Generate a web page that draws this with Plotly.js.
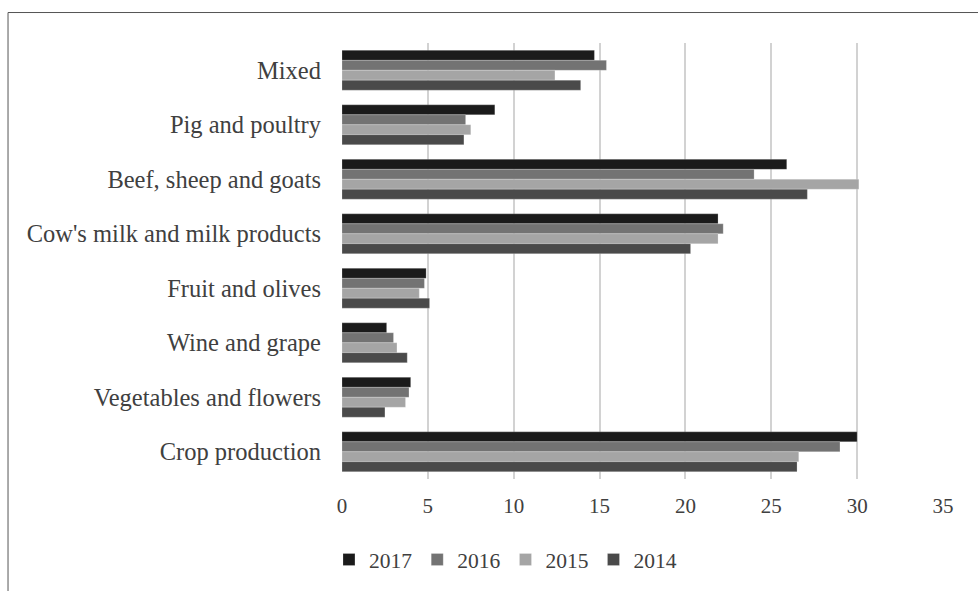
<!DOCTYPE html>
<html>
<head>
<meta charset="utf-8">
<script src="https://cdn.plot.ly/plotly-3.0.1.min.js"></script>
<style>html,body{margin:0;padding:0;background:#fff;}#chart{width:978px;height:591px;}</style>
</head>
<body>
<div id="chart"></div>
<script>
const categories = ["Mixed", "Pig and poultry", "Beef, sheep and goats", "Cow's milk and milk products", "Fruit and olives", "Wine and grape", "Vegetables and flowers", "Crop production"];
const years = ["2017", "2016", "2015", "2014"];
const values2017 = [14.7, 8.9, 25.9, 21.9, 4.9, 2.6, 4.0, 30.0];
const values2016 = [15.4, 7.2, 24.0, 22.2, 4.8, 3.0, 3.9, 29.0];
const values2015 = [12.4, 7.5, 30.1, 21.9, 4.5, 3.2, 3.7, 26.6];
const values2014 = [13.9, 7.1, 27.1, 20.3, 5.1, 3.8, 2.5, 26.5];
const colors = ["#1b1b1b", "#737373", "#a5a5a5", "#4a4a4a"];
const series = [values2017, values2016, values2015, values2014];

const traces = years.map((y, i) => ({
  type: 'bar',
  orientation: 'h',
  name: y,
  y: categories,
  x: series[i],
  marker: {color: colors[i], line: {color: 'rgba(255,255,255,0.35)', width: 0.6}},
  hoverinfo: 'x+y+name'
}));

const fam = '"Liberation Serif", "Times New Roman", serif';
const catFont = {family: fam, size: 24.5, color: '#404040'};
const tickFont = {family: fam, size: 21, color: '#404040'};
const legFont = {family: fam, size: 21.5, color: '#404040'};

const layout = {
  width: 978, height: 591,
  margin: {l: 342, r: 35, t: 43, b: 111, pad: 0},
  paper_bgcolor: '#fff', plot_bgcolor: '#fff',
  font: tickFont,
  barmode: 'group',
  bargap: 0.27,
  bargroupgap: 0,
  showlegend: true,
  legend: {orientation: 'h', x: 0.272, xanchor: 'center', y: -0.182, yanchor: 'middle', font: legFont, itemwidth: 30, traceorder: 'normal'},
  xaxis: {range: [0, 35], dtick: 5, tick0: 0, showgrid: true, gridcolor: '#d2d2d2', gridwidth: 2, zeroline: false, showline: false, ticks: '', ticklabelstandoff: 12, tickfont: tickFont, fixedrange: true},
  yaxis: {autorange: 'reversed', showgrid: false, zeroline: false, showline: false, ticks: '', ticklabelstandoff: 20, tickfont: catFont, fixedrange: true},
  shapes: [
    {type: 'line', xref: 'paper', yref: 'paper', x0: -0.5557, x1: 1.2, y0: 1.0699, y1: 1.0699, line: {color: '#555', width: 1}},
    {type: 'line', xref: 'paper', yref: 'paper', x0: -0.5557, x1: -0.5557, y0: 1.0699, y1: -0.4, line: {color: '#555', width: 1}}
  ]
};

Plotly.newPlot('chart', traces, layout, {displayModeBar: false, staticPlot: true});
</script>
</body>
</html>
